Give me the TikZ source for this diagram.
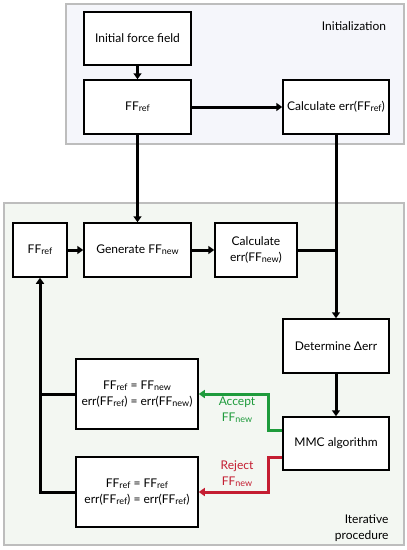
\documentclass[tikz,border=0pt]{standalone}
\usepackage{fontspec}
\setmainfont{Lato}
\usetikzlibrary{arrows.meta,calc}
\newcommand\lo[1]{\raisebox{-0.2ex}{\fontsize{9}{10}\selectfont #1}}
\definecolor{accgreen}{HTML}{1E9B3C}
\definecolor{rejred}{HTML}{C41E32}
\definecolor{initbg}{HTML}{F5F6FB}
\definecolor{iterbg}{HTML}{F3F7F2}
\definecolor{panelborder}{HTML}{BDBDBD}
\begin{document}
\begin{tikzpicture}[x=1pt,y=-1pt,
  font=\fontsize{12}{16}\selectfont,
  box/.style={draw=black,line width=1.5pt,fill=white,align=center,inner sep=2pt},
  panel/.style={draw=panelborder,line width=1.3pt},
  conn/.style={line width=3pt,-{Triangle[length=6pt,width=8pt]}},
  plain/.style={line width=3pt},
  lbl/.style={align=center}]
\useasboundingbox (0,0) rectangle (407,550);
\fill[white] (0,0) rectangle (407,550);
\draw[panel,fill=initbg] (66,4) rectangle (404,144);
\draw[panel,fill=iterbg] (4,203) rectangle (404,545);
\node[lbl] (tinit) at (354,26) {Initialization};
\node[lbl,anchor=north east,align=right] (titer) at (392,511) {Iterative\\procedure};

\node[box,minimum width=107pt,minimum height=53pt] (init) at (137.5,38.5) {Initial force field};
\node[box,minimum width=107pt,minimum height=54pt] (ff0) at (137.5,107) {FF\lo{ref}};
\node[box,minimum width=106pt,minimum height=54pt] (calc0) at (336,107) {Calculate err(FF\lo{ref})};
\node[box,minimum width=54pt,minimum height=54pt] (ff1) at (40,250) {FF\lo{ref}};
\node[box,minimum width=107pt,minimum height=54pt] (gen) at (137.5,250) {Generate FF\lo{new}};
\node[box,minimum width=82pt,minimum height=54pt] (calc1) at (256,250) {Calculate\\err(FF\lo{new})};
\node[box,minimum width=106pt,minimum height=54pt] (det) at (336,346) {Determine Δerr};
\node[box,minimum width=122pt,minimum height=70pt] (acc) at (137,394) {FF\lo{ref} = FF\lo{new}\\err(FF\lo{ref}) = err(FF\lo{new})};
\node[box,minimum width=106pt,minimum height=53pt] (mmc) at (336,443.5) {MMC algorithm};
\node[box,minimum width=122pt,minimum height=70pt] (rej) at (137,492) {FF\lo{ref} = FF\lo{ref}\\err(FF\lo{ref}) = err(FF\lo{ref})};

\draw[conn] (init) -- (ff0);
\draw[conn] (ff0) -- (calc0);
\draw[conn] (ff0) -- (gen);
\draw[conn] (ff1) -- (gen);
\draw[conn] (gen) -- (calc1);
\draw[conn] (calc0) -- (det);
\draw[plain] (calc1.east) -- (calc1.east -| calc0.south);
\draw[conn] (det) -- (mmc);
\draw[conn,draw=accgreen] ([yshift=13.5pt]mmc.west) -- ++(-14pt,0) |- (acc.east);
\draw[conn,draw=rejred] ([yshift=-13.5pt]mmc.west) -- ++(-14pt,0) |- (rej.east);
\draw[conn] (rej.west) -| (ff1.south);
\draw[plain] (acc.west) -- (acc.west -| ff1.south);
\node[lbl,text=accgreen] (tacc) at (237,410) {Accept\\FF\lo{new}};
\node[lbl,text=rejred] (trej) at (237,474) {Reject\\FF\lo{new}};
\end{tikzpicture}
\end{document}
